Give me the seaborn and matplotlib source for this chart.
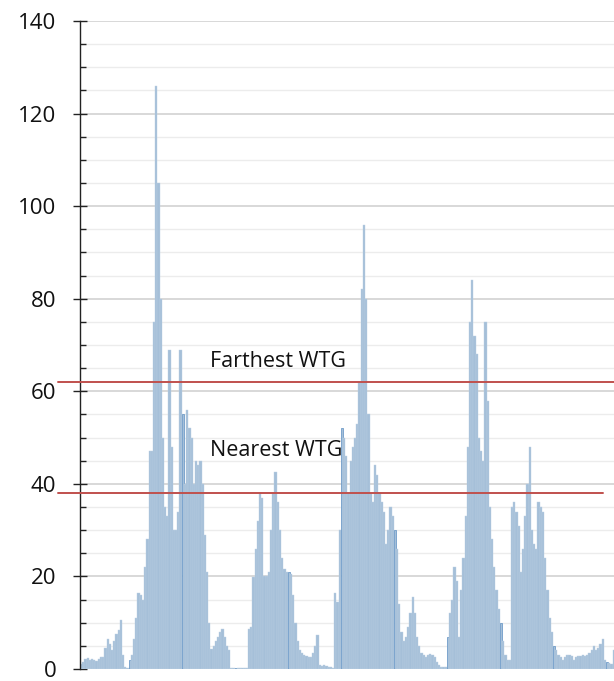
import numpy as np
import pandas as pd
import matplotlib
matplotlib.use("Agg")
import matplotlib.pyplot as plt
import matplotlib.transforms as mtransforms
from matplotlib.ticker import MultipleLocator
import seaborn as sns

sns.set_style("white")
plt.rcParams['font.family'] = ['Open Sans', 'DejaVu Sans']

# hourly values (one bar per hour)
values = [
    1.0, 1.5, 2.2, 2.4, 2.0, 2.1, 1.9, 1.8, 2.2, 2.5, 2.6, 4.5,
    6.5, 5.5, 4.0, 6.0, 7.5, 8.5, 10.6, 3.0, 0.5, 0.3, 2.0, 3.0,
    6.5, 11, 16.5, 16.0, 15.0, 22, 28, 47, 47, 75, 126, 105,
    80, 50, 35, 33, 69, 48, 30, 30, 34, 69, 55, 40,
    56, 52, 50, 40, 45, 44, 45, 40, 29, 21, 10, 4.4,
    5, 6, 7, 8, 8.7, 7, 5, 4, 0.2, 0.2, 0.2, 0.2,
    0.2, 0.2, 0.2, 0.2, 8.6, 9, 19.8, 26, 32, 38, 37, 20,
    20, 21, 30, 38, 42.5, 36, 30, 24, 21.5, 21, 21, 20.5,
    16, 10, 6, 4, 3.5, 3, 2.8, 2.5, 2.5, 3.5, 5, 7.3,
    0.8, 0.6, 0.8, 0.7, 0.5, 0.4, 0.3, 16.5, 14.5, 30, 52, 50,
    46, 38, 45, 48, 50, 53, 62, 82, 96, 80, 55, 38,
    36, 44, 42, 38, 36, 34, 27, 30, 35, 33, 30, 26,
    14, 8, 6, 7, 9, 12, 15.5, 12, 7, 5, 3.5, 3,
    2.5, 3, 3.2, 3, 2.5, 1.5, 0.8, 0.5, 0.5, 0.4, 7, 12,
    15, 22, 19, 7, 17, 24, 33, 48, 75, 84, 72, 68,
    50, 47, 45, 75, 58, 35, 28, 22, 17, 13, 10, 6,
    3, 2, 2, 35, 36, 34, 31, 21, 26, 33, 40, 48,
    30, 27, 26, 36, 35, 34, 24, 17, 11, 8, 5, 4,
    3, 2.5, 2, 2.5, 3, 3, 2.8, 2, 2.5, 2.8, 2.8, 3,
    2.8, 3, 3.5, 4, 5, 4, 4.5, 5.5, 6.5, 2, 1.5, 1.2,
    1.0, 4, 8,
]
hours = list(range(len(values)))
# bars drawn darker (day boundaries)
dark_hours = [22, 46, 70, 94, 118, 142, 166, 190, 214, 238]

farthest_wtg = 62
nearest_wtg = 38

df = pd.DataFrame({'hour': hours, 'value': values})

fig = plt.figure(figsize=(6.14, 6.81), dpi=100)
ax = fig.add_axes([80 / 614, 12 / 681, 534 / 614, 648 / 681])

sns.barplot(data=df, x='hour', y='value', color='#a5bfd8', saturation=1,
            width=1.0, edgecolor='#bcd0e3', linewidth=0.3, ax=ax)
for h in dark_hours:
    if h < len(ax.patches):
        ax.patches[h].set_edgecolor('#6f9cc9')
        ax.patches[h].set_linewidth(0.6)

ax.set_xlim(-0.5, -0.5 + 534 / 2.21)
ax.set_ylim(0, 140)
ax.yaxis.set_major_locator(MultipleLocator(20))
ax.yaxis.set_minor_locator(MultipleLocator(5))
ax.grid(which='major', axis='y', color='#d2d2d2', linewidth=1.2)
ax.grid(which='minor', axis='y', color='#ececec', linewidth=1.0)
ax.set_axisbelow(True)
ax.set_xticks([])
ax.set_xlabel('')
ax.set_ylabel('')

for s in ['top', 'right', 'bottom']:
    ax.spines[s].set_visible(False)
ax.spines['left'].set_color('#222222')
ax.spines['left'].set_linewidth(1.0)
ax.tick_params(axis='y', which='major', direction='inout', length=10,
               width=1.0, color='#222222', labelsize=16, pad=12,
               labelcolor='#111111', left=True)
ax.tick_params(axis='y', which='minor', direction='in', length=4.5,
               width=1.0, color='#222222', left=True)

red = '#c0504d'
ax.axhline(farthest_wtg, xmin=-22 / 534, xmax=1.0, color=red, lw=1.4,
           clip_on=False, zorder=5)
ax.axhline(nearest_wtg, xmin=-22 / 534, xmax=523 / 534, color=red, lw=1.4,
           clip_on=False, zorder=5)

trans = mtransforms.blended_transform_factory(ax.transAxes, ax.transData)
ax.text(130 / 534, 66.5, 'Farthest WTG', transform=trans, fontsize=15.5,
        va='center', ha='left', color='#111111')
ax.text(130 / 534, 47.1, 'Nearest WTG', transform=trans, fontsize=15.5,
        va='center', ha='left', color='#111111')

fig.savefig('out.png', dpi=100)
